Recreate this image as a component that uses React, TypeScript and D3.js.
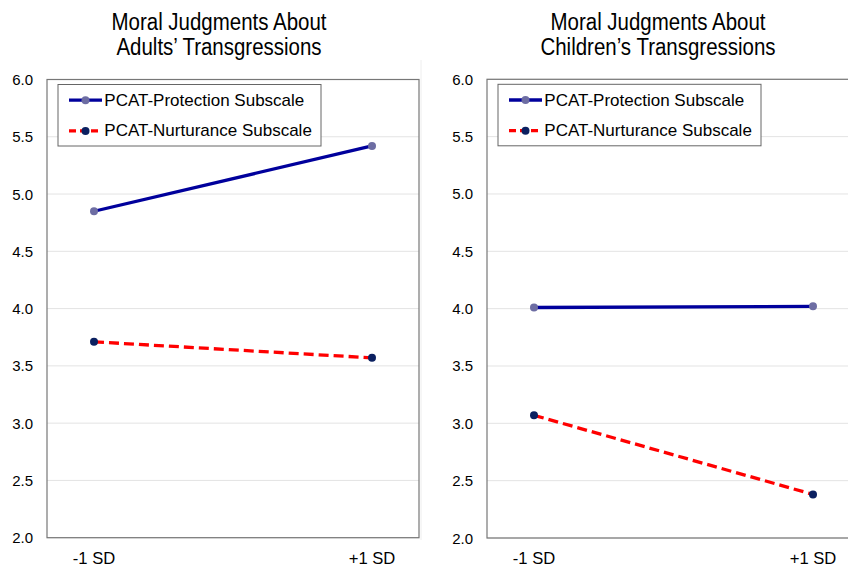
import React from "react";
import * as d3 from "d3";

const categories = ["-1 SD", "+1 SD"];
const seriesNames = ["PCAT-Protection Subscale", "PCAT-Nurturance Subscale"];
const adultsProtection = [4.85, 5.42];
const adultsNurturance = [3.71, 3.57];
const childrenProtection = [4.01, 4.02];
const childrenNurturance = [3.07, 2.38];
const yTicks = [2.0, 2.5, 3.0, 3.5, 4.0, 4.5, 5.0, 5.5, 6.0];
const panelTitles = [
  ["Moral Judgments About", "Adults\u2019 Transgressions"],
  ["Moral Judgments About", "Children\u2019s Transgressions"],
];

const W = 848;
const H = 569;

type PanelProps = {
  left: number;
  right: number;
  top: number;
  bottom: number;
  titleX: number;
  title: string[];
  prot: number[];
  nurt: number[];
};

function Panel({ left, right, top, bottom, titleX, title, prot, nurt }: PanelProps) {
  const y = d3.scaleLinear().domain([2, 6]).range([bottom, top]);
  const pad = 47;
  const x = d3
    .scalePoint<string>()
    .domain(categories)
    .range([left + pad, right - pad]);
  const line = d3
    .line<number>()
    .x((_, i) => x(categories[i]) as number)
    .y((d) => y(d));
  const font = "'Liberation Sans', Arial, sans-serif";
  const lgX = left + 11;
  const lgY = top + 5;
  return (
    <g>
      <g transform={`translate(${titleX},0) scale(0.89,1)`}>
        {title.map((t, i) => (
          <text
            key={i}
            x={0}
            y={30.5 + i * 24.5}
            textAnchor="middle"
            fontFamily={font}
            fontSize={23}
            fill="#000"
          >
            {t}
          </text>
        ))}
      </g>
      {yTicks.map((t) => (
        <g key={t}>
          <line x1={left} x2={right} y1={y(t)} y2={y(t)} stroke="#e3e3e3" strokeWidth={1} />
          <text
            x={left - 14}
            y={y(t) + 5.5}
            textAnchor="end"
            fontFamily={font}
            fontSize={15}
            fill="#000"
          >
            {t.toFixed(1)}
          </text>
        </g>
      ))}
      <rect
        x={left}
        y={top}
        width={right - left}
        height={bottom - top}
        fill="none"
        stroke="#777"
        strokeWidth={1.2}
      />
      {categories.map((c) => (
        <text
          key={c}
          x={x(c) as number}
          y={bottom + 26.3}
          textAnchor="middle"
          fontFamily={font}
          fontSize={16.6}
          fill="#000"
        >
          {c}
        </text>
      ))}
      <path d={line(prot) || ""} fill="none" stroke="#00009c" strokeWidth={3.3} />
      <path
        d={line(nurt) || ""}
        fill="none"
        stroke="#ff0000"
        strokeWidth={3.3}
        strokeDasharray="10,5"
      />
      {prot.map((v, i) => (
        <circle key={"p" + i} cx={x(categories[i]) as number} cy={y(v)} r={4} fill="#6d6da3" />
      ))}
      {nurt.map((v, i) => (
        <circle key={"n" + i} cx={x(categories[i]) as number} cy={y(v)} r={4} fill="#0b2060" />
      ))}
      <rect
        x={lgX}
        y={lgY}
        width={263}
        height={61.5}
        fill="#fff"
        stroke="#666"
        strokeWidth={1}
      />
      {seriesNames.map((s, i) => {
        const cy = lgY + 15.7 + i * 30.7;
        return (
          <g key={s}>
            {i === 0 ? (
              <line x1={lgX + 11} x2={lgX + 44} y1={cy} y2={cy} stroke="#00009c" strokeWidth={3.3} />
            ) : (
              <line
                x1={lgX + 11}
                x2={lgX + 44}
                y1={cy}
                y2={cy}
                stroke="#ff0000"
                strokeWidth={3.3}
                strokeDasharray="7,4"
              />
            )}
            <circle cx={lgX + 27.5} cy={cy} r={4} fill={i === 0 ? "#6d6da3" : "#0b2060"} />
            <text x={lgX + 46.3} y={cy + 5.5} fontFamily={font} fontSize={17} fill="#000">
              {s}
            </text>
          </g>
        );
      })}
    </g>
  );
}

export default function App() {
  return (
    <svg
      width={W}
      height={H}
      style={{ position: "absolute", left: 0, top: 0, background: "#fff" }}
    >
      <rect x={0} y={0} width={W} height={H} fill="#fff" />
      <line x1={421} x2={421} y1={60} y2={540} stroke="#eeeeee" strokeWidth={1} />
      <Panel
        left={47}
        right={419}
        top={79.5}
        bottom={537.7}
        titleX={219}
        title={panelTitles[0]}
        prot={adultsProtection}
        nurt={adultsNurturance}
      />
      <Panel
        left={487}
        right={860}
        top={79.3}
        bottom={538}
        titleX={658}
        title={panelTitles[1]}
        prot={childrenProtection}
        nurt={childrenNurturance}
      />
    </svg>
  );
}
